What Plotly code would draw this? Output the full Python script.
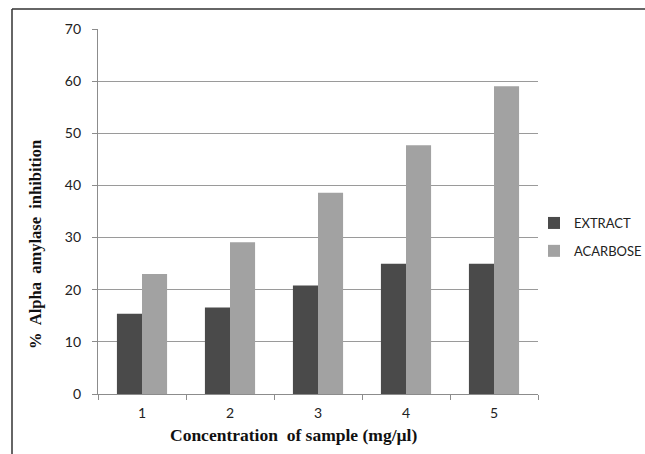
import plotly.graph_objects as go

categories = ["1", "2", "3", "4", "5"]
extract = [15.4, 16.6, 20.8, 25.0, 25.0]
acarbose = [23.0, 29.1, 38.6, 47.7, 59.0]
y_ticks = [0, 10, 20, 30, 40, 50, 60, 70]
x_title = "<b>Concentration\u00a0 of sample (mg/µl)</b>"
y_title = "<b>%\u00a0 Alpha\u00a0 amylase\u00a0 inhibition</b>"

W, H = 645, 454
L, R, T, B = 98, 107, 29, 60
pw, ph = W - L - R, H - T - B

def px_x(p):
    return (p - L) / pw

def px_y(p):
    return (H - B - p) / ph

fig = go.Figure()
fig.add_trace(go.Bar(name="EXTRACT", x=categories, y=extract, legendgroup="a",
                     marker=dict(color="#4a4a4a", line=dict(width=0))))
fig.add_trace(go.Bar(name="ACARBOSE", x=categories, y=acarbose, legendgroup="b",
                     marker=dict(color="#a2a2a2", line=dict(width=0))))

tick_font = dict(family="Lato, Liberation Sans, sans-serif", size=14, color="#222")

fig.update_layout(
    width=W, height=H,
    margin=dict(l=L, r=R, t=T, b=B, autoexpand=False),
    paper_bgcolor="white", plot_bgcolor="white",
    barmode="group", bargap=0.43, bargroupgap=0,
    showlegend=True,
    legend=dict(xref="container", yref="container",
                x=534 / W, y=1 - 237 / H, xanchor="left", yanchor="middle",
                font=dict(family="Lato, Liberation Sans, sans-serif", size=13, color="#222"),
                itemwidth=30, tracegroupgap=8, bgcolor="rgba(0,0,0,0)"),
    xaxis=dict(
        type="category", tickson="boundaries", ticks="outside", ticklen=5,
        tickcolor="#8c8c8c", showline=True, linecolor="#8c8c8c", linewidth=1.3,
        showgrid=False, tickfont=tick_font, ticklabelstandoff=6,
    ),
    yaxis=dict(
        range=[0, 70], tickvals=y_ticks, ticks="outside", ticklen=5,
        tickcolor="#8c8c8c", showline=True, linecolor="#8c8c8c", linewidth=1.3,
        showgrid=True, gridcolor="#9a9a9a", gridwidth=1.2,
        zeroline=False, tickfont=tick_font, ticklabelstandoff=8,
    ),
    annotations=[
        dict(text=x_title, xref="paper", yref="paper", x=px_x(293), y=px_y(435),
             xanchor="center", yanchor="middle", showarrow=False,
             font=dict(family="Liberation Serif, Times New Roman, serif", size=17.5, color="#111")),
        dict(text=y_title, xref="paper", yref="paper", x=px_x(35), y=px_y(245),
             xanchor="center", yanchor="middle", showarrow=False, textangle=-90,
             font=dict(family="Liberation Serif, Times New Roman, serif", size=16.5, color="#111")),
    ],
    shapes=[
        dict(type="line", xref="paper", yref="paper",
             x0=px_x(12), x1=px_x(W + 5), y0=px_y(9), y1=px_y(9),
             line=dict(color="#333", width=1.5)),
        dict(type="line", xref="paper", yref="paper",
             x0=px_x(12), x1=px_x(12), y0=px_y(9), y1=px_y(H + 5),
             line=dict(color="#333", width=1.5)),
    ],
)

fig.write_html("out.html", config={"displayModeBar": False},
               post_script="document.body.style.margin='0px';")
